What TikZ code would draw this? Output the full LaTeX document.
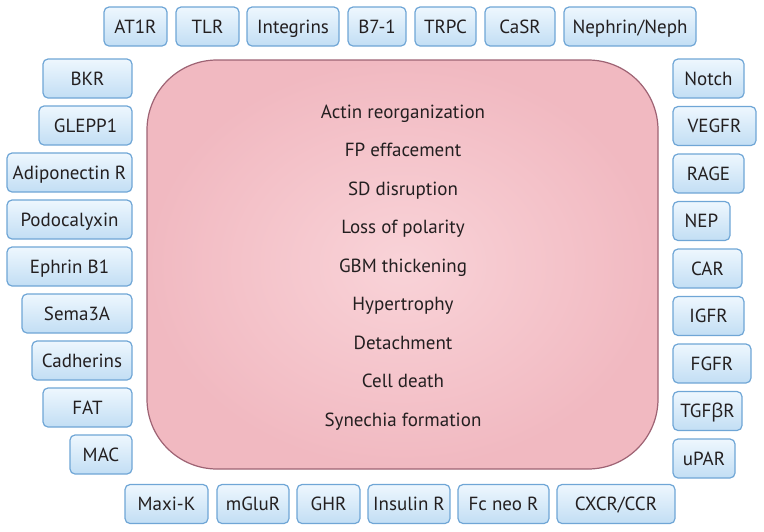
\documentclass[tikz,border=0pt]{standalone}
\usepackage{fontspec}
\setmainfont{PT Sans}
\newfontfamily\greekfont{Open Sans}
\definecolor{boxedge}{HTML}{6FA6D6}
\definecolor{boxtop}{HTML}{EEF7FE}
\definecolor{boxbot}{HTML}{C2DEF4}
\definecolor{celledge}{HTML}{9E6374}
\definecolor{cellin}{HTML}{F9D3D8}
\definecolor{cellout}{HTML}{F1B9C1}
\definecolor{ink}{HTML}{231F20}
\newcommand\rb[5]{\node[rbox, minimum width=#4pt] (#1) at (#2,#3) {#5};}
\begin{document}
\begin{tikzpicture}[x=1pt,y=-1pt,
  rbox/.style={draw=boxedge, line width=1.2pt, rounded corners=5pt,
    top color=boxtop, bottom color=boxbot, minimum height=39pt, inner sep=0pt,
    font=\fontsize{19}{22}\selectfont, text=ink, text height=13.3pt, text depth=0pt},
  effect/.style={anchor=base, font=\fontsize{19}{22}\selectfont, text=ink, inner sep=0pt}]
\useasboundingbox (0,0) rectangle (764,531);
% central cell
\node[draw=celledge, line width=1.2pt, rounded corners=70pt, inner color=cellin, outer color=cellout,
  minimum width=511pt, minimum height=409pt, inner sep=0pt] (cell) at (402.5,264.5) {};
\node[effect] (l1) at (403,118) {Actin reorganization};
\node[effect] (l2) at (403,156.5) {FP effacement};
\node[effect] (l3) at (403,195) {SD disruption};
\node[effect] (l4) at (403,233.5) {Loss of polarity};
\node[effect] (l5) at (403,272) {GBM thickening};
\node[effect] (l6) at (403,310.5) {Hypertrophy};
\node[effect] (l7) at (403,349) {Detachment};
\node[effect] (l8) at (403,387.5) {Cell death};
\node[effect] (l9) at (403,426) {Synechia formation};
% top row
\rb{at1r}{135.5}{26.5}{63}{AT1R}
\rb{tlr}{207.5}{26.5}{63}{TLR}
\rb{integ}{293}{26.5}{92}{Integrins}
\rb{b71}{377}{26.5}{58}{B7-1}
\rb{trpc}{445.5}{26.5}{61}{TRPC}
\rb{casr}{520}{26.5}{70}{CaSR}
\rb{neph}{630}{26.5}{132}{Nephrin/Neph}
% left column
\rb{bkr}{87.5}{78.5}{89}{BKR}
\rb{glepp}{85.5}{125.5}{93}{GLEPP1}
\rb{adipo}{69.5}{172.5}{125}{Adiponectin R}
\rb{podo}{69.5}{219.5}{125}{Podocalyxin}
\rb{ephrin}{69.5}{266.5}{125}{Ephrin B1}
\rb{sema}{77}{313.5}{110}{Sema3A}
\rb{cadh}{82}{360.5}{100}{Cadherins}
\rb{fat}{87.5}{407.5}{89}{FAT}
\rb{mac}{101}{454.5}{62}{MAC}
% right column
\rb{notch}{708.5}{78.5}{71}{Notch}
\rb{vegfr}{714.5}{126}{83}{VEGFR}
\rb{rage}{708.5}{173.5}{71}{RAGE}
\rb{nep}{701.5}{221}{57}{NEP}
\rb{car}{707.5}{268.5}{69}{CAR}
\rb{igfr}{708.5}{316}{71}{IGFR}
\rb{fgfr}{712}{363.5}{78}{FGFR}
\rb{tgfbr}{707.5}{411}{69}{TGF{\greekfont β}R}
\rb{upar}{704}{458.5}{62}{uPAR}
% bottom row
\rb{maxik}{166.5}{504}{83}{Maxi-K}
\rb{mglur}{253}{504}{72}{mGluR}
\rb{ghr}{328.5}{504}{63}{GHR}
\rb{insr}{409}{504}{82}{Insulin R}
\rb{fcneo}{503.5}{504}{91}{Fc neo R}
\rb{cxcr}{616}{504}{118}{CXCR/CCR}
\end{tikzpicture}
\end{document}
